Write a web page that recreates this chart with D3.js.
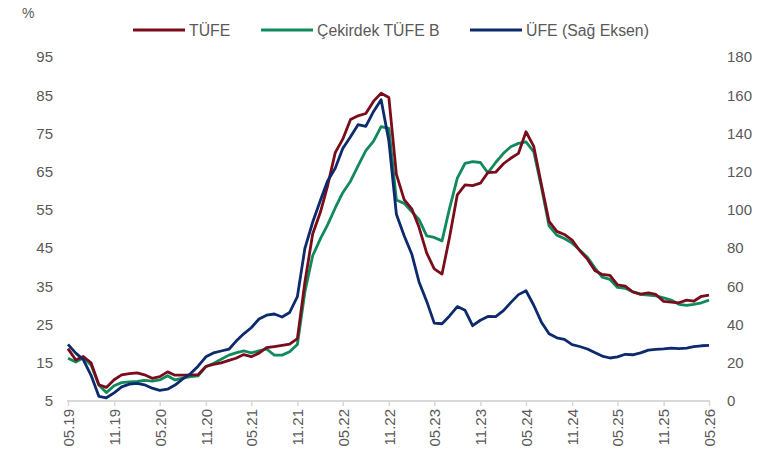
<!DOCTYPE html>
<html>
<head>
<meta charset="utf-8">
<script src="https://cdn.jsdelivr.net/npm/d3@7"></script>
<style>
  body { margin: 0; background: #fff; }
  text { font-family: "Liberation Sans", Arial, sans-serif; fill: #595959; }
</style>
</head>
<body>
<div id="chart"></div>
<script>
// months: 05.2019 -> 05.2026
var startMonth = new Date(2019, 4, 1);
var endMonth = new Date(2026, 4, 1);

var tickLabels = ["05.19","11.19","05.20","11.20","05.21","11.21","05.22","11.22",
                  "05.23","11.23","05.24","11.24","05.25","11.25","05.26"];

var tufe = [18.71,15.72,16.65,15.01,9.26,8.55,10.56,11.84,
  12.15,12.37,11.86,10.94,11.39,12.62,11.76,11.77,11.75,11.89,14.03,14.60,
  14.97,15.61,16.19,17.14,16.59,17.53,18.95,19.25,19.58,19.89,21.31,36.08,
  48.69,54.44,61.14,69.97,73.50,78.62,79.60,80.21,83.45,85.51,84.39,64.27,
  57.68,55.18,50.51,43.68,39.59,38.21,47.83,58.94,61.53,61.36,61.98,64.77,
  64.86,67.07,68.50,69.80,75.45,71.60,61.78,51.97,49.38,48.58,47.09,44.38,
  42.12,39.05,38.10,37.86,35.41,35.05,33.52,32.95,33.29,32.87,31.07,30.89,
  30.7,31.4,31.1,32.4,32.7];

var cekirdekB = [16.2,15.2,16.3,14.4,9.2,7.2,9.0,9.8,
  10.0,10.1,10.4,10.2,10.5,11.6,10.5,11.0,11.4,11.6,14.0,14.8,
  15.9,17.0,17.6,18.1,17.6,18.1,18.6,17.0,17.0,17.9,19.8,33.5,
  43.0,47.5,51.0,55.5,59.5,62.5,66.5,70.5,73.0,76.8,76.3,57.6,
  56.7,54.5,52.5,48.2,47.8,46.9,55.4,63.3,67.2,67.6,67.4,64.7,
  67.4,69.8,71.5,72.4,72.8,70.2,61.1,50.8,48.4,47.5,46.3,44.5,
  42.6,39.7,37.4,36.8,34.7,34.5,33.6,32.9,32.7,32.5,32.0,31.4,
  30.3,30.0,30.3,30.7,31.4];

var ufe = [29.6,25.04,21.66,13.45,2.45,1.70,4.26,7.36,
  8.84,9.26,8.50,6.71,5.53,6.17,8.33,11.53,14.33,18.20,23.11,25.15,
  26.16,27.09,31.20,35.17,38.33,42.89,44.92,45.52,43.96,46.31,54.62,79.89,
  93.53,105.01,114.97,121.82,132.16,138.31,144.61,143.75,151.50,157.69,136.02,97.72,
  86.46,76.61,62.43,52.11,40.76,40.42,44.50,49.41,47.44,39.39,42.25,44.22,
  44.20,47.29,51.47,55.66,57.68,50.09,41.37,35.17,33.09,32.24,29.47,28.52,
  27.20,25.21,23.50,22.50,23.13,24.45,24.19,25.16,26.59,27.00,27.23,27.67,
  27.4,27.7,28.4,28.9,29.1];

var leftTicks = [5,15,25,35,45,55,65,75,85,95];
var rightTicks = [0,20,40,60,80,100,120,140,160,180];

var seriesNames = ["TÜFE","Çekirdek TÜFE B","ÜFE (Sağ Eksen)"];
var seriesColors = ["#7a0c1c","#108a5c","#0c2a6c"];

var width = 773, height = 455;
var margin = {top: 57, right: 64, bottom: 54, left: 68};

var months = d3.timeMonth.range(startMonth, d3.timeMonth.offset(endMonth, 1));
var parseTick = d3.timeParse("%m.%y");

var svg = d3.select("#chart").append("svg")
    .attr("width", width).attr("height", height);

var x = d3.scaleTime()
    .domain([startMonth, endMonth])
    .range([margin.left, width - margin.right]);
var yL = d3.scaleLinear().domain([5, 95]).range([height - margin.bottom, margin.top]);
var yR = d3.scaleLinear().domain([0, 180]).range([height - margin.bottom, margin.top]);

// x axis
var xAxis = d3.axisBottom(x)
    .tickValues(tickLabels.map(parseTick))
    .tickFormat(d3.timeFormat("%m.%y"))
    .tickSize(5)
    .tickSizeOuter(0);
var gx = svg.append("g")
    .attr("transform", "translate(0," + (height - margin.bottom) + ")")
    .call(xAxis);
gx.select(".domain").attr("stroke", "#d9d9d9").attr("stroke-width", 2)
    .attr("d", "M" + (margin.left - 1) + ",0H" + (width - margin.right + 1));
gx.selectAll(".tick line").attr("stroke", "#d9d9d9").attr("stroke-width", 1.5);
gx.selectAll(".tick text")
    .attr("transform", "rotate(-90)")
    .attr("x", -8).attr("y", 0).attr("dy", "0.35em")
    .style("text-anchor", "end")
    .style("font-size", "15px")
    .attr("fill", "#595959");

// left axis
var gl = svg.append("g")
    .attr("transform", "translate(" + margin.left + ",0)")
    .call(d3.axisLeft(yL).tickValues(leftTicks).tickSize(0).tickPadding(15));
gl.select(".domain").remove();
gl.selectAll("text").style("font-size", "15px").attr("fill", "#595959");

// right axis
var gr = svg.append("g")
    .attr("transform", "translate(" + (width - margin.right) + ",0)")
    .call(d3.axisRight(yR).tickValues(rightTicks).tickSize(0).tickPadding(18));
gr.select(".domain").remove();
gr.selectAll("text").style("font-size", "15px").attr("fill", "#595959");

svg.append("text").attr("x", 22).attr("y", 18)
    .style("font-size", "14px").text("%");

// lines
var lineL = d3.line().x(function(d, i){ return x(months[i]); }).y(function(d){ return yL(d); });
var lineR = d3.line().x(function(d, i){ return x(months[i]); }).y(function(d){ return yR(d); });

svg.append("path").datum(cekirdekB).attr("fill", "none")
    .attr("stroke", seriesColors[1]).attr("stroke-width", 2.8)
    .attr("stroke-linejoin", "round").attr("d", lineL);
svg.append("path").datum(tufe).attr("fill", "none")
    .attr("stroke", seriesColors[0]).attr("stroke-width", 2.8)
    .attr("stroke-linejoin", "round").attr("d", lineL);
svg.append("path").datum(ufe).attr("fill", "none")
    .attr("stroke", seriesColors[2]).attr("stroke-width", 2.8)
    .attr("stroke-linejoin", "round").attr("d", lineR);

// legend
var legendX = [133, 261, 470];
var legend = svg.append("g");
seriesNames.forEach(function(name, i){
  legend.append("line")
    .attr("x1", legendX[i]).attr("x2", legendX[i] + 52)
    .attr("y1", 30).attr("y2", 30)
    .attr("stroke", seriesColors[i]).attr("stroke-width", 2.8);
  legend.append("text")
    .attr("x", legendX[i] + 56).attr("y", 30).attr("dy", "0.35em")
    .style("font-size", "15.8px").text(name);
});
</script>
</body>
</html>
